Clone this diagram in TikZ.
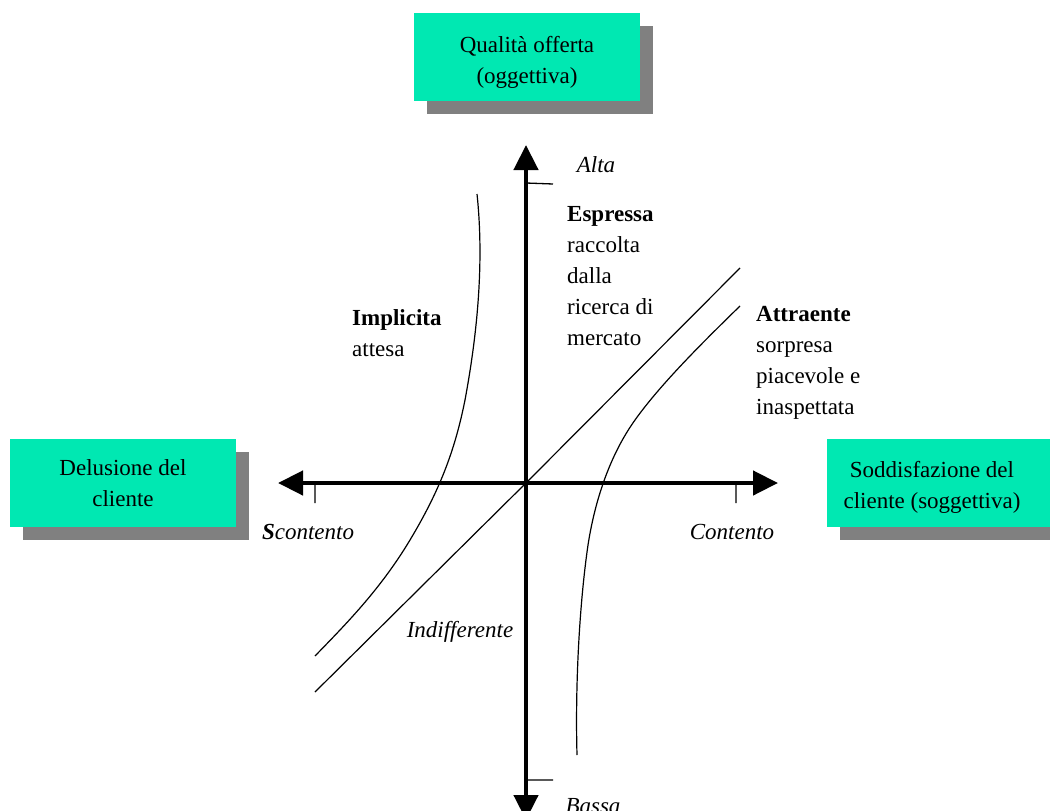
\documentclass[tikz,border=0pt]{standalone}
\usepackage{fontspec}
\setmainfont{Liberation Serif}
\usepackage{tikz}
\usetikzlibrary{arrows.meta,shadows}
\definecolor{panelgreen}{RGB}{0,232,178}
\definecolor{panelshadow}{RGB}{128,128,128}
\tikzstyle{panel}=[rectangle, fill=panelgreen, align=center, minimum width=226pt, minimum height=88pt, drop shadow={shadow xshift=13pt, shadow yshift=-13pt, fill=panelshadow, opacity=1}]
\tikzstyle{axis}=[line width=4.5pt, {Triangle[length=25pt,width=24pt]}-{Triangle[length=25pt,width=24pt]}]
\tikzstyle{tick}=[line width=1.3pt]
\tikzstyle{curve}=[line width=1.2pt]
\tikzstyle{note}=[anchor=west, align=left, inner sep=0pt]
\tikzstyle{level}=[font=\fontsize{23}{31}\selectfont\itshape]

\begin{document}
\begin{tikzpicture}[x=1pt, y=-1pt, every node/.append style={font=\fontsize{23}{31}\selectfont}]
                    \useasboundingbox (0,0) rectangle (1050,811);
                    \clip (0,0) rectangle (1050,811);
                    \node[panel] (offerta) at (527, 57) {\rule{0pt}{27pt}Qualità offerta\\(oggettiva)};
                    \node[panel] (delusione) at (123, 483) {Delusione del\\cliente};
                    \node[panel] (soddisfazione) at (940, 483) {\rule{0pt}{24pt}\hspace*{-16pt}Soddisfazione del\\\hspace*{-16pt}cliente (soggettiva)};
                    \coordinate (O) at (526, 483);
                    \coordinate (north) at (526, 145);
                    \coordinate (south) at (526, 820);
                    \coordinate (west) at (278, 483);
                    \coordinate (east) at (778, 483);
                    \draw[axis] (south) -- (north);
                    \draw[axis] (west) -- (east);
                    \draw[tick]
                        (315, 483) -- (315, 503)
                        (736, 483) -- (736, 503)
                        (526, 183) -- (553, 184)
                        (526, 780) -- (553, 780)
                    ;
                    \draw[curve] (315, 692) -- (O) -- (740, 268);
                    \draw[curve] (477,194) .. controls (484,260) and (478,330) .. (465,400)
                        .. controls (455,450) and (440,490) .. (410,540)
                        .. controls (380,590) and (345,625) .. (315,656);
                    \draw[curve] (740,306) .. controls (700,345) and (660,385) .. (635,420)
                        .. controls (610,455) and (595,500) .. (588,545)
                        .. controls (580,600) and (575,680) .. (577,755);
                    \node[level] (alta) at (596, 165) {Alta};
                    \node[level] (bassa) at (593, 806) {Bassa};
                    \node[level] (scontento) at (308, 532) {\textbf{S}contento};
                    \node[level] (contento) at (732, 532) {Contento};
                    \node[level] (indifferente) at (460, 632) {Indifferente};
                    \node[note] (espressa) at (567, 276) {\textbf{Espressa}\\raccolta\\dalla\\ricerca di\\mercato};
                    \node[note] (implicita) at (352, 333) {\textbf{Implicita}\\attesa};
                    \node[note] (attraente) at (756, 363) {\textbf{Attraente}\\sorpresa\\piacevole e\\inaspettata};
                \end{tikzpicture}
\end{document}
